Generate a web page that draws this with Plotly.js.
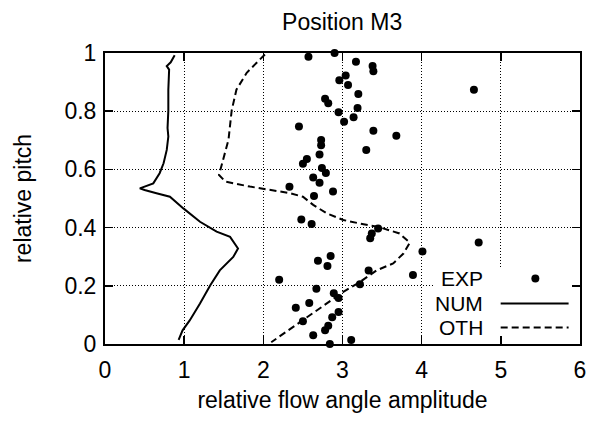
<!DOCTYPE html>
<html>
<head>
<meta charset="utf-8">
<script src="https://cdn.plot.ly/plotly-3.0.1.min.js"></script>
<style>html,body{margin:0;padding:0;background:#fff;}#chart{width:594px;height:423px;}</style>
</head>
<body>
<div id="chart"></div>
<script>
// EXP measurements
const expX = [2.57,2.90,3.17,3.38,3.39,3.04,2.96,3.07,3.20,2.78,2.82,3.19,2.95,3.14,3.02,2.45,3.39,3.68,2.73,2.73,3.30,2.71,2.55,2.50,2.74,2.79,2.63,2.71,2.33,2.88,2.64,2.48,2.61,3.45,3.37,3.35,4.72,4.01,2.85,2.69,2.81,3.33,3.89,2.20,3.22,2.67,2.89,2.95,2.58,2.41,2.95,2.87,2.50,2.82,2.78,2.63,3.11,2.84,4.66];
const expY = [0.987,1.0,0.970,0.955,0.937,0.923,0.906,0.890,0.859,0.843,0.827,0.811,0.796,0.779,0.764,0.747,0.733,0.716,0.701,0.683,0.667,0.651,0.636,0.619,0.605,0.588,0.572,0.554,0.540,0.524,0.509,0.428,0.412,0.397,0.380,0.363,0.349,0.318,0.302,0.286,0.268,0.253,0.237,0.221,0.205,0.190,0.174,0.158,0.141,0.125,0.110,0.092,0.078,0.063,0.047,0.030,0.014,0.0,0.874];

// NUM curve
const numX = [0.88,0.83,0.78,0.81,0.80,0.80,0.79,0.80,0.78,0.74,0.69,0.61,0.44,0.50,0.65,0.82,0.99,1.20,1.41,1.58,1.68,1.62,1.45,1.33,1.20,1.07,0.98,0.93];
const numY = [0.992,0.968,0.955,0.943,0.874,0.802,0.742,0.713,0.667,0.621,0.587,0.552,0.535,0.529,0.518,0.506,0.466,0.420,0.386,0.368,0.328,0.299,0.253,0.202,0.139,0.081,0.047,0.014];

// OTH curve
const othX = [2.02,1.92,1.79,1.66,1.60,1.56,1.49,1.44,1.52,1.83,2.21,2.34,2.50,2.63,2.80,3.01,3.22,3.47,3.72,3.85,3.77,3.64,3.43,3.22,3.01,2.80,2.59,2.38,2.10];
const othY = [0.995,0.966,0.932,0.874,0.802,0.702,0.633,0.581,0.558,0.541,0.524,0.518,0.506,0.478,0.449,0.426,0.414,0.401,0.380,0.348,0.311,0.277,0.253,0.213,0.179,0.139,0.098,0.058,0.006];

const xTicks = [0,1,2,3,4,5,6];
const yTicks = [0,0.2,0.4,0.6,0.8,1];
const yTickText = ['0','0.2','0.4','0.6','0.8','1'];
const legendNames = ['EXP','NUM','OTH'];

const FONT = 'Liberation Sans, Arial, sans-serif';
const FS = 23;

const traces = [
  {x: expX, y: expY, mode: 'markers', type: 'scatter', name: 'EXP',
   marker: {color: '#000', size: 8, symbol: 'circle'}, cliponaxis: false},
  {x: numX, y: numY, mode: 'lines', type: 'scatter', name: 'NUM',
   line: {color: '#000', width: 2}},
  {x: othX, y: othY, mode: 'lines', type: 'scatter', name: 'OTH',
   line: {color: '#000', width: 2, dash: '7px,4px'}}
];

const axisCommon = {
  showline: true, linecolor: '#000', linewidth: 2, mirror: 'ticks',
  ticks: 'inside', ticklen: 8, tickwidth: 1.5, tickcolor: '#000',
  showgrid: true, gridcolor: '#000', gridwidth: 1, griddash: '1px,2px',
  zeroline: false, tickfont: {family: FONT, size: FS, color: '#000'}
};

const legY = [0.225, 0.139, 0.057];
const annotations = legendNames.map((n, i) => ({
  text: n, xref: 'paper', yref: 'paper', x: 0.798, y: legY[i],
  xanchor: 'right', yanchor: 'middle', showarrow: false, borderpad: 0,
  font: {family: FONT, size: 21, color: '#000'}
}));

const shapes = [
  {type: 'rect', xref: 'x', yref: 'y', x0: 4.15, x1: 6, y0: 0, y1: 0.26,
   fillcolor: '#fff', line: {width: 0}, layer: 'between'},
  {type: 'circle', xref: 'paper', yref: 'paper', xsizemode: 'pixel', ysizemode: 'pixel',
   xanchor: 0.906, yanchor: legY[0], x0: -4, x1: 4, y0: -4, y1: 4,
   fillcolor: '#000', line: {width: 0}},
  {type: 'line', xref: 'paper', yref: 'paper', x0: 0.833, x1: 0.976, y0: legY[1], y1: legY[1],
   line: {color: '#000', width: 2}},
  {type: 'line', xref: 'paper', yref: 'paper', x0: 0.833, x1: 0.976, y0: legY[2], y1: legY[2],
   line: {color: '#000', width: 2, dash: '7px,4px'}}
];

const layout = {
  width: 594, height: 423,
  margin: {l: 105, r: 14, t: 53, b: 79},
  paper_bgcolor: '#fff', plot_bgcolor: '#fff',
  showlegend: false,
  title: {text: 'Position M3', x: 0.576, xanchor: 'center', yref: 'container', y: 0.948, yanchor: 'middle',
          font: {family: FONT, size: FS, color: '#000'}},
  xaxis: Object.assign({}, axisCommon, {
    range: [0, 6], tickvals: xTicks, ticktext: xTicks.map(String), ticklabelstandoff: 4,
    title: {text: 'relative flow angle amplitude', standoff: 10,
            font: {family: FONT, size: FS, color: '#000'}}
  }),
  yaxis: Object.assign({}, axisCommon, {
    range: [0, 1], tickvals: yTicks, ticktext: yTickText, ticklabelstandoff: 2,
    title: {text: 'relative pitch', standoff: 26,
            font: {family: FONT, size: FS, color: '#000'}}
  }),
  annotations: annotations,
  shapes: shapes
};

Plotly.newPlot('chart', traces, layout, {displayModeBar: false, staticPlot: true});
</script>
</body>
</html>
